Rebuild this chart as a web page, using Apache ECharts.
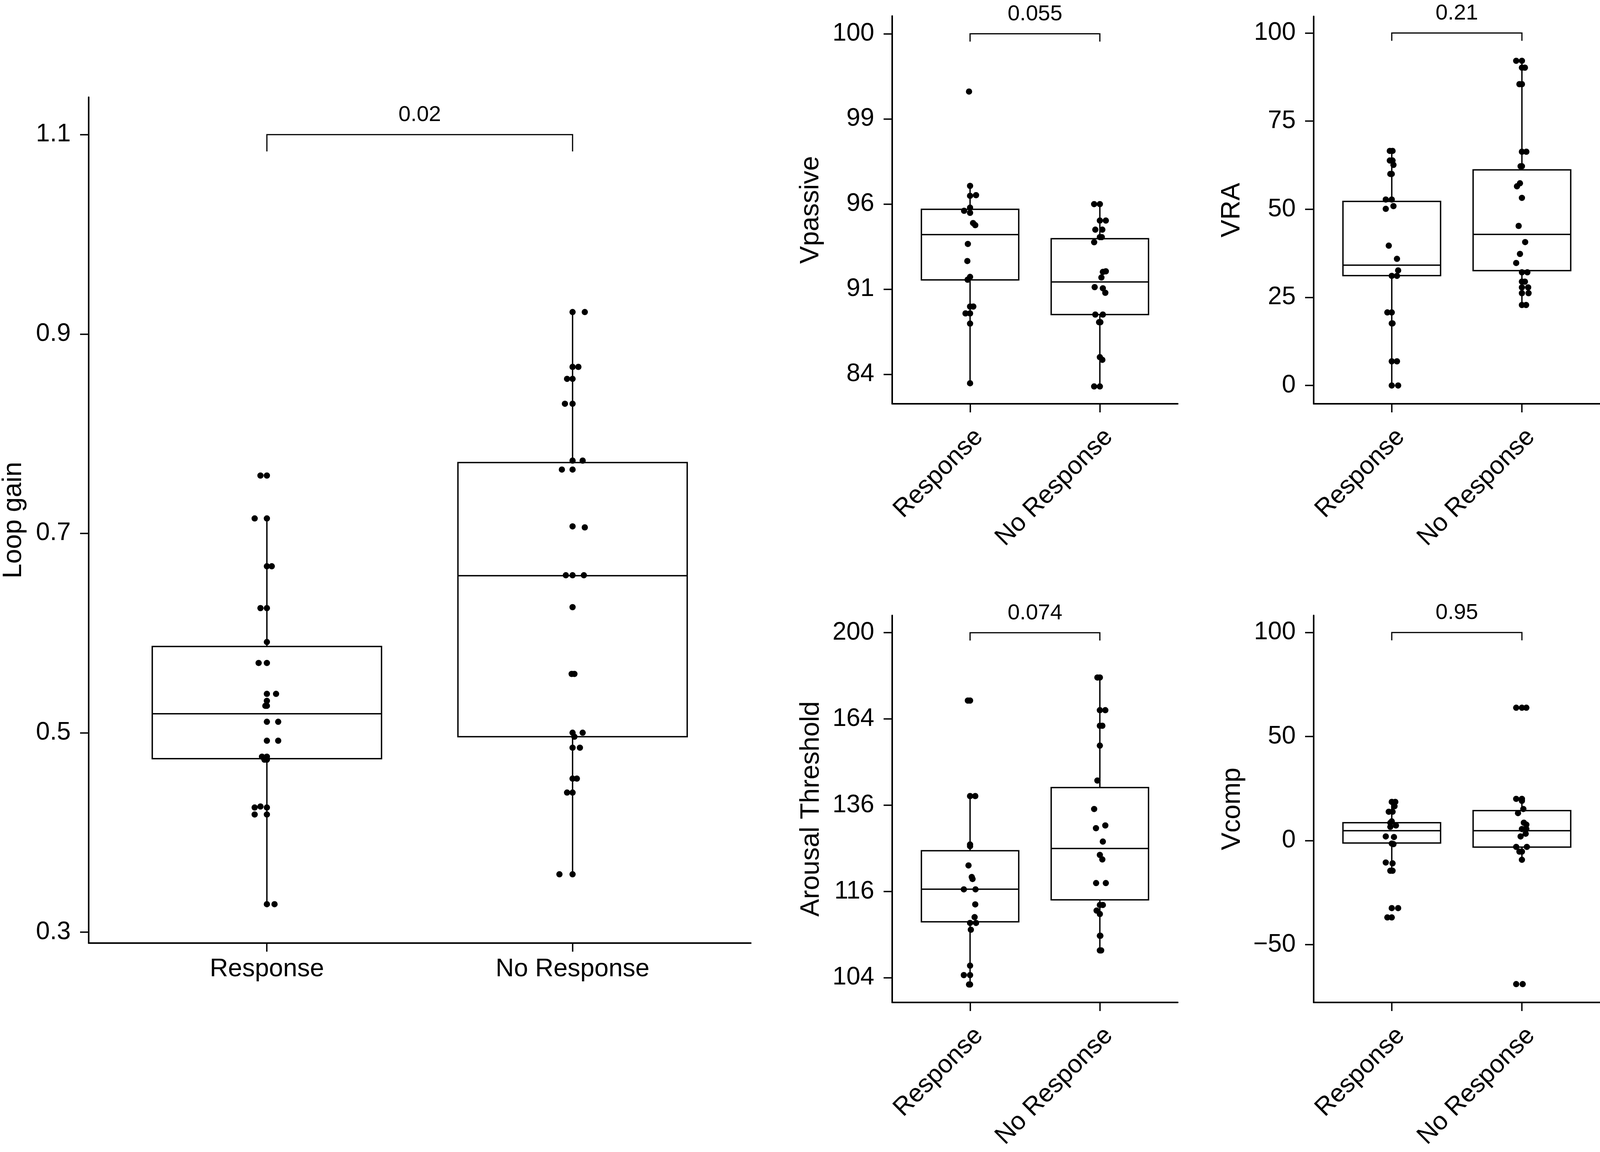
<!DOCTYPE html>
<html><head><meta charset="utf-8">
<script src="https://cdn.jsdelivr.net/npm/echarts@6/dist/echarts.min.js"></script>
<style>html,body{margin:0;padding:0;background:#fff;overflow:hidden}#c{width:100vw;height:2950px}</style>
</head><body><div id="c"></div>
<script>
const FONT = '"Liberation Sans", Arial, Helvetica, sans-serif';
const categories = ['Response', 'No Response'];
const pValues = ['0.02', '0.055', '0.21', '0.074', '0.95'];
const titles = ['Loop gain', 'Vpassive', 'VRA', 'Arousal Threshold', 'Vcomp'];

// Loop gain
const lgRespVal = [0.328,0.328,0.418,0.418,0.425,0.425,0.426,0.476,0.476,0.473,0.473,0.492,0.492,0.511,0.511,0.527,0.527,0.532,0.539,0.539,0.570,0.570,0.591,0.625,0.625,0.667,0.667,0.715,0.715,0.758,0.758];
const lgRespJit = [0,0.025,0,-0.04,0,-0.04,-0.021,-0.016,0,-0.008,0,0,0.037,0,0.037,-0.005,0,0,0,0.03,-0.027,0,0,-0.021,0,0,0.016,-0.04,0,-0.021,0];
const lgNoVal = [0.922,0.922,0.867,0.867,0.855,0.855,0.830,0.830,0.773,0.773,0.764,0.764,0.707,0.706,0.658,0.658,0.658,0.626,0.559,0.559,0.500,0.500,0.496,0.485,0.485,0.454,0.454,0.440,0.440,0.358,0.358];
const lgNoJit = [0,0.04,0,0.019,-0.018,0,-0.025,0,0,0.033,-0.035,0,0,0.04,-0.022,0,0.037,0,-0.003,0.006,0,0.033,0.006,0,0.024,0,0.014,-0.018,0,-0.043,0];
const lgBox = [[0.328,0.474,0.519,0.5865,0.715],[0.358,0.496,0.6575,0.771,0.922]];
const lgTicks = [0.3,0.5,0.7,0.9,1.1];
const lgTickLabels = ['0.3','0.5','0.7','0.9','1.1'];

// Vpassive
const vpRespVal = [99.54,96.81,96.38,96.41,95.83,95.68,95.58,95.06,94.95,93.91,92.88,91.85,91.66,89.74,89.74,89.22,89.22,88.42,83.16];
const vpRespJit = [-0.008,0,0,0.046,0,-0.046,0,0.023,0.04,-0.017,-0.021,0,-0.019,0,0.025,-0.035,0,0,0];
const vpNoVal = [96.0,96.0,95.19,95.19,94.71,94.71,94.30,94.30,94.01,92.18,92.22,91.81,91.15,91.07,90.75,89.13,89.13,88.53,88.53,85.58,85.34,82.85,82.85];
const vpNoJit = [-0.044,0,0,0.046,-0.035,0.019,0,0.015,-0.044,0.023,0.046,0.012,-0.04,0.023,0.042,-0.035,0.023,-0.006,0.004,0,0.019,-0.044,0];
const vpBox = [[83.16,91.65,94.44,95.75,96.81],[82.85,89.13,91.51,94.21,96.0]];
const vpTicks = [84,91,96,99,100];
const vpTickLabels = ['84','91','96','99','100'];

// VRA
const vraRespVal = [66.56,66.56,63.83,63.83,62.59,60.02,60.02,52.77,52.77,50.9,50.12,39.67,35.93,32.66,31.1,31.1,20.73,20.73,17.61,17.61,6.86,6.86,0,0];
const vraRespJit = [-0.015,0.006,-0.015,0.006,0.013,-0.011,0,-0.046,0,0.013,-0.046,-0.023,0.04,0.049,0,0.04,-0.034,0,0,0.006,0,0.04,0,0.049];
const vraNoVal = [92.13,92.13,90.18,90.18,85.5,85.5,66.33,66.33,62.2,62.2,57.37,56.51,53.24,45.28,40.69,37.33,34.76,32.11,32.11,29.46,29.46,27.83,27.83,26.19,26.19,22.84,22.84];
const vraNoJit = [-0.044,0,0,0.023,-0.019,0,0,0.034,-0.01,0,-0.015,-0.038,0,-0.025,0.025,-0.015,-0.044,0,0.042,0,0.023,0,0.048,0,0.051,0,0.032];
const vraBox = [[0,31.18,34.14,52.22,66.56],[22.84,32.58,42.87,61.19,92.13]];
const vraTicks = [0,25,50,75,100];
const vraTickLabels = ['0','25','50','75','100'];

// Arousal threshold
const atRespVal = [171.0,171.0,138.6,138.6,125.9,125.5,121.2,118.8,118.4,116.4,116.4,113.7,111.6,110.7,110.7,109.7,105.2,104.25,104.25,103.4,103.4];
const atRespJit = [-0.017,0,0,0.04,0,0,-0.012,0.013,0.019,-0.048,0.042,0.04,0.035,0,0.046,0.006,0,-0.048,0,-0.008,0];
const atNoVal = [180.3,180.3,167.3,167.3,161.5,161.5,154.5,143.2,134.96,129.9,130.6,126.6,123.5,122.5,117.6,117.6,113.6,113.6,112.66,112.1,108.84,108.84,106.94,106.94];
const atNoJit = [-0.019,0,0,0.042,0,0.019,0,-0.019,-0.044,-0.03,0.042,0.023,0,0.019,-0.029,0.046,0.023,0,-0.025,0,0,0.004,0,0.01];
const atBox = [[103.4,110.87,116.44,124.46,138.6],[106.94,114.49,124.97,141.09,180.3]];
const atTicks = [104,116,136,164,200];
const atTickLabels = ['104','116','136','164','200'];

// Vcomp
const vcRespVal = [18.6,18.6,16.5,13.85,13.85,9.23,8.5,7.26,6.6,1.98,1.7,-1.45,-1.7,-10.55,-10.95,-14.5,-14.5,-32.45,-32.45,-36.94,-36.94];
const vcRespJit = [0,0.027,0.021,-0.023,0.006,0,-0.011,0.032,-0.011,-0.046,0.017,0,0.013,-0.046,0.006,-0.011,0.006,0,0.049,-0.034,0];
const vcNoVal = [63.85,63.85,63.85,20.05,20.05,19.1,15.17,13.19,8.58,7.65,5.54,5.54,3.3,1.98,-3.03,-3.03,-5.3,-5.3,-9.23,-69.0,-69.0];
const vcNoJit = [-0.044,0,0.034,-0.044,0,0,0.011,-0.03,0.015,0.034,0,0.034,0.029,-0.01,-0.044,0.038,-0.019,0,0,-0.044,0.006];
const vcBox = [[-14.5,-1.19,4.75,8.58,18.6],[-9.23,-3.17,4.75,14.38,20.05]];
const vcTicks = [-50,0,50,100];
const vcTickLabels = ['\u221250','0','50','100'];

const bracketLevels = [1.1, 100, 100, 200, 100];

// axis transforms (sqrt scales reproduce the original tick spacing)
const ident = v => v;
const tfVp = v => Math.sqrt(Math.max(0, 100 - v));
const tfAt = v => Math.sqrt(Math.max(0, v - 100));

// horizontal scale: layout designed for a 4288px wide page, fitted to the actual viewport width
const W = document.documentElement.clientWidth || window.innerWidth || 4288;
const SX = W / 4288;
const gx = (left, width) => ({left: Math.round(left * SX), width: Math.round(width * SX)});

const panels = [
  {grid:Object.assign(gx(235, 1778), {top:249, height:2166}), x:[0.417,2.583], y:[0.289,1.1375], inverse:false, tf:ident,
   resp:[lgRespVal,lgRespJit], no:[lgNoVal,lgNoJit], box:lgBox, ticks:lgTicks, tickLabels:lgTickLabels, rotate:0, nameGap:158},
  {grid:Object.assign(gx(2391, 765), {top:41, height:993}), x:[0.4,2.6], y:[-0.209,4.345], inverse:true, tf:tfVp,
   resp:[vpRespVal,vpRespJit], no:[vpNoVal,vpNoJit], box:vpBox, ticks:vpTicks, tickLabels:vpTickLabels, rotate:45, nameGap:174},
  {grid:Object.assign(gx(3521, 767), {top:42, height:992}), x:[0.4,2.6], y:[-5.19,104.72], inverse:false, tf:ident,
   resp:[vraRespVal,vraRespJit], no:[vraNoVal,vraNoJit], box:vraBox, ticks:vraTicks, tickLabels:vraTickLabels, rotate:45, nameGap:175},
  {grid:Object.assign(gx(2391, 765), {top:1576, height:991}), x:[0.4,2.6], y:[1.428,10.40], inverse:false, tf:tfAt,
   resp:[atRespVal,atRespJit], no:[atNoVal,atNoJit], box:atBox, ticks:atTicks, tickLabels:atTickLabels, rotate:45, nameGap:173},
  {grid:Object.assign(gx(3521, 767), {top:1576, height:991}), x:[0.4,2.6], y:[-77.8,108.2], inverse:false, tf:ident,
   resp:[vcRespVal,vcRespJit], no:[vcNoVal,vcNoJit], box:vcBox, ticks:vcTicks, tickLabels:vcTickLabels, rotate:45, nameGap:174}
];

const grids = [], xAxes = [], yAxes = [], series = [];

function boxRender(params, api) {
  const x = api.value(0);
  const lo = api.coord([x, api.value(1)]);
  const q1 = api.coord([x, api.value(2)]);
  const md = api.coord([x, api.value(3)]);
  const q3 = api.coord([x, api.value(4)]);
  const hi = api.coord([x, api.value(5)]);
  const l = api.coord([x - 0.375, api.value(3)])[0];
  const r = api.coord([x + 0.375, api.value(3)])[0];
  const top = Math.min(q1[1], q3[1]), bot = Math.max(q1[1], q3[1]);
  const st = {stroke:'#000', lineWidth:3.5, fill:null};
  return {type:'group', children:[
    {type:'line', shape:{x1:lo[0], y1:lo[1], x2:q1[0], y2:q1[1]}, style:st},
    {type:'line', shape:{x1:hi[0], y1:hi[1], x2:q3[0], y2:q3[1]}, style:st},
    {type:'rect', shape:{x:l, y:top, width:r-l, height:bot-top}, style:{stroke:'#000', lineWidth:3.5, fill:'#fff'}},
    {type:'line', shape:{x1:l, y1:md[1], x2:r, y2:md[1]}, style:st}
  ]};
}

function makeBracket(label, dropPx) {
  return function(params, api) {
    const a = api.coord([api.value(0), api.value(2)]);
    const b = api.coord([api.value(1), api.value(2)]);
    return {type:'group', children:[
      {type:'polyline', shape:{points:[[a[0], a[1]+dropPx],[a[0], a[1]],[b[0], b[1]],[b[0], b[1]+dropPx]]},
       style:{stroke:'#000', lineWidth:3, fill:null}},
      {type:'text', style:{text:label, x:(a[0]+b[0])/2, y:a[1]-22, align:'center', verticalAlign:'bottom',
       fontSize:56, fontFamily:FONT, fill:'#000'}}
    ]};
  };
}

panels.forEach((p, i) => {
  grids.push(Object.assign({containLabel:false}, p.grid));
  const tickT = p.ticks.map(p.tf);
  xAxes.push({
    type:'value', gridIndex:i, min:p.x[0], max:p.x[1],
    axisLine:{show:true, onZero:false, lineStyle:{color:'#000', width:4}},
    axisTick:{show:true, customValues:[1,2], length:22, lineStyle:{color:'#000', width:3.5}},
    axisLabel:{customValues:[1,2], formatter:v => categories[Math.round(v)-1], fontSize:65, color:'#000', fontFamily:FONT,
      margin: p.rotate ? 52 : 35, rotate:p.rotate,
      align: p.rotate ? 'right' : 'center', verticalAlign:'top'},
    splitLine:{show:false}
  });
  yAxes.push({
    type:'value', gridIndex:i, min:p.y[0], max:p.y[1], inverse:p.inverse,
    name:titles[i], nameLocation:'middle', nameGap:p.nameGap,
    nameTextStyle:{fontSize:68, color:'#000', fontFamily:FONT},
    axisLine:{show:true, onZero:false, lineStyle:{color:'#000', width:4}},
    axisTick:{show:true, customValues:tickT, length:22, lineStyle:{color:'#000', width:3.5}},
    axisLabel:{customValues:tickT, fontSize:64, color:'#000', fontFamily:FONT, margin:46,
      formatter:v => { let k = 0, d = Infinity; tickT.forEach((t, j) => { if (Math.abs(t - v) < d) { d = Math.abs(t - v); k = j; } }); return p.tickLabels[k]; }},
    splitLine:{show:false}
  });
  series.push({
    type:'custom', xAxisIndex:i, yAxisIndex:i, z:2, renderItem:boxRender,
    data:p.box.map((b, j) => [j+1].concat(b.map(p.tf)))
  });
  [p.resp, p.no].forEach((g, j) => {
    series.push({
      type:'scatter', xAxisIndex:i, yAxisIndex:i, z:3, symbol:'circle', symbolSize:16,
      itemStyle:{color:'#000', opacity:1},
      data:g[0].map((v, k) => [j + 1 + g[1][k], p.tf(v)])
    });
  });
  series.push({
    type:'custom', xAxisIndex:i, yAxisIndex:i, z:4,
    renderItem:makeBracket(pValues[i], Math.round(p.grid.height * 0.02)),
    data:[[1, 2, p.tf(bracketLevels[i])]]
  });
});

const chart = echarts.init(document.getElementById('c'), null, {renderer:'canvas'});
chart.setOption({backgroundColor:'#fff', animation:false, grid:grids, xAxis:xAxes, yAxis:yAxes, series:series});
</script>
</body></html>
